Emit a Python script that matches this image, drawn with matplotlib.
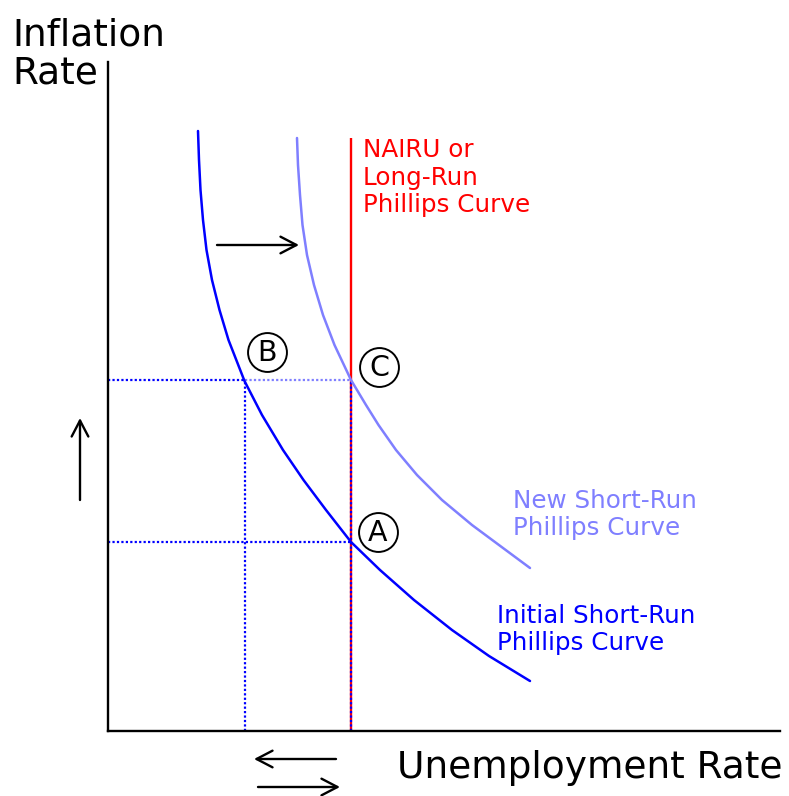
import matplotlib
matplotlib.use("Agg")
import matplotlib.pyplot as plt

# --> chart units: pixels measured from the axis corner, y upward
initial_u = [90, 91, 92.5, 95, 98.5, 104, 111.5, 120.5, 136.5, 154, 175, 195.5, 218, 243,
             272, 306, 344, 381, 422]
initial_pi = [600, 571, 541, 511, 481, 451, 421, 391, 350, 316, 281, 251, 221, 189,
              161, 131, 101, 75, 50]

new_u = [189, 190, 192, 194.5, 199, 206, 215, 226.5, 243, 258, 270.5, 288, 309, 334,
         364, 395, 422]
new_pi = [593, 566, 536, 506, 476, 446, 416, 386, 351, 326, 306, 281, 256, 231,
          206, 183, 163]

nairu_u = 243
nairu_top = 593

point_labels = ["A", "B", "C"]
point_u = [243, 137, 243]
point_pi = [189, 351, 351]
label_u = [270, 159, 271]
label_pi = [199, 379, 364]

BLUE = "#0000ff"
LIGHT = "#7f7fff"
RED = "#ff0000"

fig = plt.figure(figsize=(7.89, 7.96), dpi=100)
ax = fig.add_axes([108 / 789, 65 / 796, 672 / 789, 669 / 796])
ax.set_xlim(0, 672)
ax.set_ylim(0, 669)
ax.set_xticks([])
ax.set_yticks([])
for side in ("top", "right"):
    ax.spines[side].set_visible(False)
for side in ("left", "bottom"):
    ax.spines[side].set_linewidth(1.7)
    ax.spines[side].set_color("black")

# --> long-run curve
ax.plot([nairu_u, nairu_u], [0, nairu_top], color=RED, lw=1.7, solid_capstyle="butt", clip_on=False)

# --> dotted guide lines
dot = dict(lw=1.6, linestyle=(0, (1, 1)), clip_on=False)
a_u, a_pi = point_u[0], point_pi[0]
b_u, b_pi = point_u[1], point_pi[1]
c_u, c_pi = point_u[2], point_pi[2]
ax.plot([0, b_u], [b_pi, b_pi], color=BLUE, **dot)
ax.plot([b_u, c_u], [c_pi, c_pi], color=LIGHT, **dot)
ax.plot([0, a_u], [a_pi, a_pi], color=BLUE, **dot)
ax.plot([b_u, b_u], [0, b_pi], color=BLUE, **dot)
ax.plot([c_u, c_u], [0, c_pi], color=BLUE, **dot)

# --> short-run curves
ax.plot(new_u, new_pi, color=LIGHT, lw=1.8, solid_capstyle="round", solid_joinstyle="round", clip_on=False)
ax.plot(initial_u, initial_pi, color=BLUE, lw=1.8, solid_capstyle="round", solid_joinstyle="round", clip_on=False)

# --> circled points
for lab, lu, lp in zip(point_labels, label_u, label_pi):
    ax.plot(lu, lp, marker="o", ms=28, mfc="white", mec="black", mew=1.4, clip_on=False)
    ax.text(lu, lp - 1, lab, fontsize=20.5, ha="center", va="center", color="black")

# --> arrows
arr = dict(arrowstyle="->,head_length=1.15,head_width=0.6", lw=1.7, color="black",
           shrinkA=0, shrinkB=0, mutation_scale=10)
ax.annotate("", xy=(191, 486), xytext=(109, 486), arrowprops=arr, annotation_clip=False)
ax.annotate("", xy=(-28, 313), xytext=(-28, 231), arrowprops=arr, annotation_clip=False)
ax.annotate("", xy=(146, -28), xytext=(228, -28), arrowprops=arr, annotation_clip=False)
ax.annotate("", xy=(232, -56), xytext=(150, -56), arrowprops=arr, annotation_clip=False)

# --> texts
big = dict(fontsize=27, color="black", va="baseline", ha="left")
ax.text(-96, 686, "Inflation", **big)
ax.text(-96, 648, "Rate", **big)
ax.text(289, -47, "Unemployment Rate", **big)

small = dict(fontsize=17.7, va="baseline", ha="left")
for i, line in enumerate(["NAIRU or", "Long-Run", "Phillips Curve"]):
    ax.text(255, 574 - 27.5 * i, line, color=RED, **small)
for i, line in enumerate(["New Short-Run", "Phillips Curve"]):
    ax.text(405, 223 - 27 * i, line, color=LIGHT, **small)
for i, line in enumerate(["Initial Short-Run", "Phillips Curve"]):
    ax.text(389, 108 - 27 * i, line, color=BLUE, **small)

fig.savefig("out.png", dpi=100)
